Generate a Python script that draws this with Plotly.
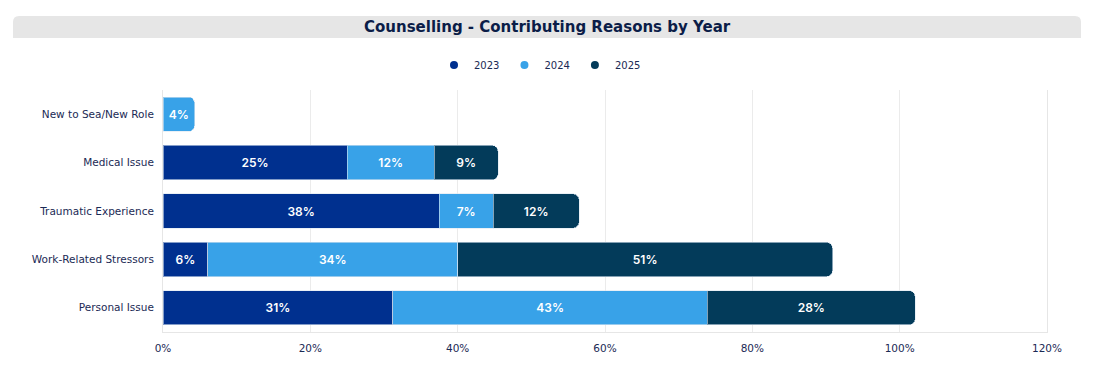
import plotly.graph_objects as go

categories = ["New to Sea/New Role", "Medical Issue", "Traumatic Experience",
              "Work-Related Stressors", "Personal Issue"]
years = ["2023", "2024", "2025"]
v2023 = [None, 25.0, 37.5, 6.1, 31.2]
v2024 = [4.3, 11.8, 7.3, 33.9, 42.7]
v2025 = [None, 8.7, 11.7, 50.9, 28.2]
colors = ["#00308F", "#38A2E8", "#033B5A"]
tick_vals = [0, 20, 40, 60, 80, 100, 120]
tick_text = ["0%", "20%", "40%", "60%", "80%", "100%", "120%"]

OFF = 8  # page body margin
W, H = 1098 - OFF, 371 - OFF
ML, MR, MT, MB = 163 - OFF, 51, 90 - OFF, 39
pw, ph = W - ML - MR, H - MT - MB

def px(x):
    return (x - OFF - ML) / pw

def py(y):
    return (H - MB - (y - OFF)) / ph

fig = go.Figure()
for name, vals, col in zip(years, [v2023, v2024, v2025], colors):
    fig.add_trace(go.Bar(
        y=categories, x=vals, name=name, orientation="h",
        marker=dict(color=col, line=dict(color="rgba(220,230,240,0.6)", width=1)),
        text=[None if v is None else f"{round(v)}%" for v in vals],
        textposition="inside", insidetextanchor="middle", textangle=0,
        textfont=dict(family="Inter, Roboto, sans-serif", size=12, color="white", weight=600),
        hovertemplate="%{y}: %{x:.1f}%<extra>" + name + "</extra>",
        showlegend=False,
    ))
for name, col in zip(years, colors):
    fig.add_trace(go.Scatter(x=[None], y=[None], mode="markers", name=name,
                             marker=dict(color=col, size=8, symbol="circle"),
                             showlegend=True))

# title box
x0, x1 = px(13), px(1081)
y0, y1 = py(38), py(16)
rx, ry = 6 / pw, 6 / ph
path = (f"M {x0},{y0} L {x0},{y1-ry} Q {x0},{y1} {x0+rx},{y1} "
        f"L {x1-rx},{y1} Q {x1},{y1} {x1},{y1-ry} L {x1},{y0} Z")
fig.add_shape(type="path", path=path, xref="paper", yref="paper",
              fillcolor="#E6E6E6", line=dict(width=0), layer="below")
fig.add_annotation(text="<b>Counselling - Contributing Reasons by Year</b>",
                   x=px(547), y=py(27), xref="paper", yref="paper",
                   xanchor="center", yanchor="middle", showarrow=False,
                   font=dict(family="DejaVu Sans, Verdana, sans-serif", size=15, color="#0B1D48"))

fig.update_layout(
    width=W, height=H,
    margin=dict(l=ML, r=MR, t=MT, b=MB),
    barmode="stack", bargap=0.29, barcornerradius=6,
    paper_bgcolor="white", plot_bgcolor="white",
    font=dict(family="DejaVu Sans, Verdana, sans-serif", size=10, color="#1B2A55"),
    legend=dict(orientation="h", x=px(540), xanchor="center", y=py(65), yanchor="middle",
                font=dict(size=10, color="#1B2A55"), itemwidth=30, traceorder="normal",
                bgcolor="rgba(0,0,0,0)"),
    xaxis=dict(range=[0, 120], tickvals=tick_vals, ticktext=tick_text,
               showgrid=True, gridcolor="#EBEBEB", gridwidth=1,
               zeroline=False, showline=True, linecolor="#E6E6E6", mirror=False,
               ticks="", ticklen=0, ticklabelstandoff=6, tickfont=dict(size=10.5),
               fixedrange=True),
    yaxis=dict(categoryorder="array", categoryarray=categories[::-1],
               showgrid=False, zeroline=False, showline=True, linecolor="#E6E6E6",
               mirror=True, ticks="", ticklabelstandoff=6, tickfont=dict(size=10.5),
               fixedrange=True),
)
fig.write_html("out.html")
